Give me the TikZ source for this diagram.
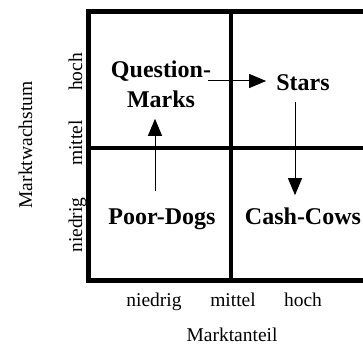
\documentclass[tikz,border=0pt]{standalone}
\usepackage{fontspec}
\setmainfont{Liberation Serif}
\usetikzlibrary{arrows.meta}
\begin{document}
\begin{tikzpicture}[x=1pt,y=1pt,
  grid/.style={line width=4.3pt,line join=miter},
  big/.style={font=\fontsize{24}{30}\selectfont\bfseries,inner sep=0pt,align=center},
  lab/.style={font=\fontsize{19.5}{23}\selectfont,inner sep=0pt},
  arr/.style={line width=1pt,-{Triangle[length=17pt,width=14pt]}}]
\useasboundingbox (0,0) rectangle (363,345);
% grid
\draw[grid] (363,333.5) -- (88.5,333.5) -- (88.5,64.5) -- (363,64.5);
\draw[grid] (231,333.5) -- (231,64.5);
\draw[grid] (88.5,197) -- (363,197);
% quadrant labels
\node[big,anchor=north] (qm) at (161,284.5) {Question-\\Marks};
\node[big,anchor=base] (st) at (303,254.3) {Stars};
\node[big,anchor=base] (pd) at (162,121) {Poor-Dogs};
\node[big,anchor=base] (cc) at (303,121) {Cash-Cows};
% arrows
\draw[arr] ([xshift=-3pt]qm.east |- 0,264) -- ([xshift=-10pt]st.west |- 0,264);
\draw[arr] ([xshift=-7pt,yshift=17pt]pd.north) -- ([xshift=-6pt,yshift=-11pt]qm.south);
\draw[arr] ([xshift=-8pt,yshift=-11pt]st.south) -- ([xshift=-8pt,yshift=12pt]cc.north);
% axis labels
\node[lab,anchor=base] (xl) at (154,39) {niedrig};
\node[lab,anchor=base] (xm) at (233,39) {mittel};
\node[lab,anchor=base] (xh) at (303,39) {hoch};
\node[lab,anchor=base] (xt) at (232,4) {Marktanteil};
\node[lab,anchor=base,rotate=90] (yl) at (82,120) {niedrig};
\node[lab,anchor=base,rotate=90] (ym) at (82,202) {mittel};
\node[lab,anchor=base,rotate=90] (yh) at (82,273) {hoch};
\node[lab,anchor=base,rotate=90] (yt) at (32,200) {Marktwachstum};
\end{tikzpicture}
\end{document}
